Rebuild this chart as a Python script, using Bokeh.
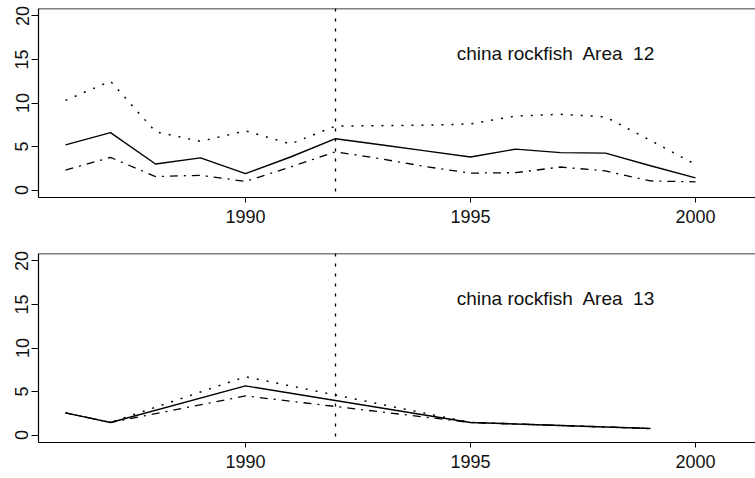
from bokeh.plotting import figure
from bokeh.layouts import column
from bokeh.models import Span, FixedTicker, Range1d
from bokeh.embed import file_html
from bokeh.resources import INLINE
from bokeh.core.properties import value

# ---- data ----
years_12 = [1986, 1987, 1988, 1989, 1990, 1991, 1992, 1993, 1994, 1995, 1996, 1997, 1998, 1999, 2000]
est_12 = [5.2, 6.6, 3.0, 3.7, 1.9, 3.8, 5.9, 5.2, 4.5, 3.8, 4.7, 4.3, 4.25, 2.8, 1.4]
upper_12 = [10.3, 12.5, 6.7, 5.6, 6.8, 5.3, 7.35, 7.4, 7.45, 7.6, 8.5, 8.7, 8.4, 5.7, 2.95]
lower_12 = [2.3, 3.75, 1.55, 1.7, 1.0, 2.65, 4.4, 3.6, 2.7, 1.95, 2.0, 2.65, 2.2, 1.05, 0.95]

years_13 = [1986, 1987, 1990, 1995, 1999]
est_13 = [2.55, 1.45, 5.65, 1.45, 0.75]
upper_13 = [2.55, 1.45, 6.7, 1.45, 0.75]
lower_13 = [2.55, 1.45, 4.5, 1.45, 0.75]

titles = ["china rockfish\u00a0 Area\u00a0 12", "china rockfish\u00a0 Area\u00a0 13"]
x_ticks = [1990, 1995, 2000]
y_ticks = [0, 5, 10, 15, 20]
break_year = 1992

FONT = "Liberation Sans"


def make_panel(years, est, upper, lower, title, top_border, bottom_border, height):
    p = figure(width=755, height=height, output_backend="svg", toolbar_location=None,
               x_range=Range1d(1985.4, 2001.333), y_range=Range1d(-0.85, 20.85),
               min_border_left=38, min_border_right=0,
               min_border_top=top_border, min_border_bottom=bottom_border)
    p.grid.visible = False
    p.outline_line_color = None
    p.background_fill_color = "white"
    p.border_fill_color = "white"

    for ax in (p.xaxis[0], p.yaxis[0]):
        ax.axis_line_color = "black"
        ax.axis_line_width = 1.2
        ax.major_tick_line_color = "black"
        ax.major_tick_in = 0
        ax.minor_tick_line_color = None
        ax.major_label_text_font = FONT
        ax.major_label_text_font_size = "18px"
        ax.major_label_text_color = "#111111"
    p.xaxis.ticker = FixedTicker(ticks=x_ticks)
    p.yaxis.ticker = FixedTicker(ticks=y_ticks)
    p.xaxis.major_tick_out = 5
    p.yaxis.major_tick_out = 7
    p.xaxis.major_label_standoff = 7
    p.yaxis.major_label_standoff = 3
    p.yaxis.major_label_orientation = "vertical"

    # top frame line
    p.add_layout(Span(location=20.85, dimension="width", line_color="black", line_width=1.5))
    # management change marker
    p.add_layout(Span(location=break_year, dimension="height", line_color="black",
                      line_width=1.3, line_dash="3 7"))

    p.line(years, upper, line_color="black", line_width=1.5, line_dash="2 8")
    p.line(years, lower, line_color="black", line_width=1.3, line_dash="8 6 2 6")
    p.line(years, est, line_color="black", line_width=1.4)

    p.text(x=[1996.9], y=[15.65], text=[title], text_align="center", text_baseline="middle",
           text_font=value(FONT), text_font_size="19px", text_color="#111111")
    return p


p1 = make_panel(years_12, est_12, upper_12, lower_12, titles[0], 8, 46, 243)
p2 = make_panel(years_13, est_13, upper_13, lower_13, titles[1], 10, 34, 233)

layout = column(p1, p2, spacing=0)
open("out.html", "w").write(file_html(layout, INLINE))
